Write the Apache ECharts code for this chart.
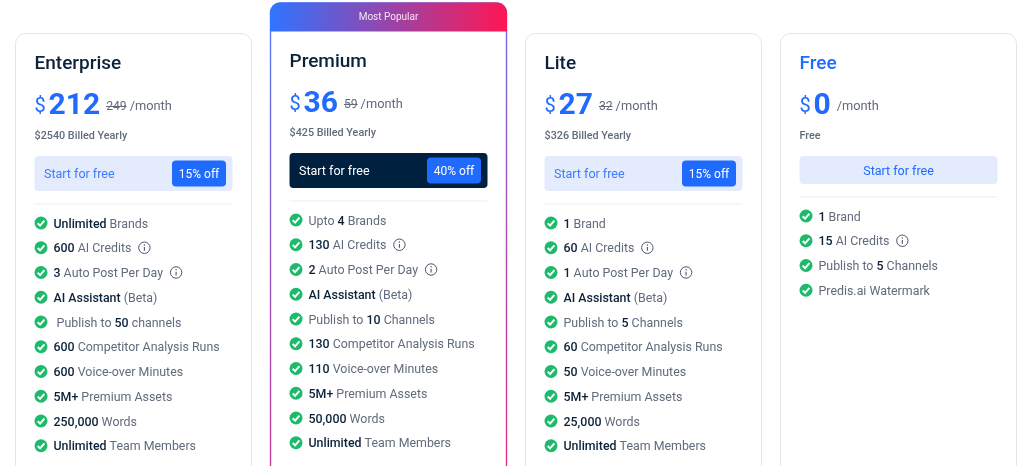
<!DOCTYPE html>
<html lang="en">
<head>
<meta charset="UTF-8">
<title>Pricing</title>
<script src="https://cdn.jsdelivr.net/npm/echarts@6/dist/echarts.min.js"></script>
<style>
  html, body { margin: 0; padding: 0; background: #fff; }
  #main { width: 1024px; height: 466px; }
</style>
</head>
<body>
<div id="main"></div>
<script>
// plan data. ** marks the bold parts of a feature line, [i] the info icon
var planNames = ['Enterprise', 'Premium', 'Lite', 'Free'];
var prices = ['212', '36', '27', '0'];
var oldPrices = ['249', '59', '32', ''];
var billed = ['$2540 Billed Yearly', '$425 Billed Yearly', '$326 Billed Yearly', 'Free'];
var discounts = ['15% off', '40% off', '15% off', ''];
var enterpriseFeatures = ['**Unlimited** Brands', '**600** AI Credits [i]', '**3** Auto Post Per Day [i]', '**AI Assistant** (Beta)',
  ' Publish to **50** channels', '**600** Competitor Analysis Runs', '**600** Voice-over Minutes', '**5M+** Premium Assets', '**250,000** Words', '**Unlimited** Team Members'];
var premiumFeatures = ['Upto **4** Brands', '**130** AI Credits [i]', '**2** Auto Post Per Day [i]', '**AI Assistant** (Beta)',
  'Publish to **10** Channels', '**130** Competitor Analysis Runs', '**110** Voice-over Minutes', '**5M+** Premium Assets', '**50,000** Words', '**Unlimited** Team Members'];
var liteFeatures = ['**1** Brand', '**60** AI Credits [i]', '**1** Auto Post Per Day [i]', '**AI Assistant** (Beta)',
  'Publish to **5** Channels', '**60** Competitor Analysis Runs', '**50** Voice-over Minutes', '**5M+** Premium Assets', '**25,000** Words', '**Unlimited** Team Members'];
var freeFeatures = ['**1** Brand', '**15** AI Credits [i]', 'Publish to **5** Channels', 'Predis.ai Watermark'];
var features = [enterpriseFeatures, premiumFeatures, liteFeatures, freeFeatures];
var ribbonText = 'Most Popular';
var ctaText = 'Start for free';

var FONT = 'Roboto';
var BLUE = '#1f6bff', NAVY = '#0b2239', GREY = '#616b7c', DARK = '#00203f';
var cardX = [15.5, 270.5, 525.5, 780.5];
var cardW = 236;

var ctx = document.createElement('canvas').getContext('2d');
function textW(str, size, weight) {
  ctx.font = (weight || 400) + ' ' + size + 'px ' + FONT;
  return ctx.measureText(str).width;
}
function label(x, y, str, size, color, weight, align) {
  return { type: 'text', x: x, y: y + 1.5, silent: true, style: {
    text: str, fill: color, font: (weight || 400) + ' ' + size + 'px ' + FONT,
    align: align || 'left', verticalAlign: 'middle' } };
}
function featureLine(x, y, line, out) {
  out.push({ type: 'circle', shape: { cx: x + 6.5, cy: y, r: 6.5 }, style: { fill: '#1dba6b' } });
  out.push({ type: 'polyline', shape: { points: [[x + 3.2, y + 0.2], [x + 5.6, y + 2.6], [x + 9.9, y - 2.4]] },
    style: { stroke: '#fff', lineWidth: 2, fill: null } });
  var tx = x + 19;
  line.replace(' [i]', '').split('**').forEach(function (part, i) {
    if (!part) return;
    var bold = i % 2 === 1;
    out.push(label(tx, y, part, 12.4, bold ? NAVY : GREY, bold ? 500 : 400));
    tx += textW(part, 12.4, bold ? 500 : 400);
  });
  if (line.indexOf('[i]') >= 0) {
    var ix = tx + 13;
    out.push({ type: 'circle', shape: { cx: ix, cy: y, r: 5.7 }, style: { fill: null, stroke: '#4a5468', lineWidth: 1 } });
    out.push({ type: 'line', shape: { x1: ix, y1: y - 0.8, x2: ix, y2: y + 3 }, style: { stroke: '#4a5468', lineWidth: 1.1 } });
    out.push({ type: 'circle', shape: { cx: ix, cy: y - 2.8, r: 0.7 }, style: { fill: '#4a5468' } });
  }
}
function buildCard(i) {
  var out = [];
  var popular = i === 1, free = i === 3;
  var top = popular ? 30.5 : 33.5;
  var x = cardX[i], ix = x + 19;
  if (popular) {
    out.push({ type: 'rect', shape: { x: x, y: 3, width: cardW, height: 560, r: 10 }, style: {
      fill: '#fff', lineWidth: 1.4,
      stroke: new echarts.graphic.LinearGradient(0, 0, 1, 1, [{ offset: 0, color: '#4f7cff' }, { offset: 1, color: '#ff1f6e' }]) } });
    out.push({ type: 'rect', shape: { x: x - 0.5, y: 2.5, width: cardW + 1, height: 29, r: [10, 10, 0, 0] }, style: {
      fill: new echarts.graphic.LinearGradient(0, 0, 1, 0, [{ offset: 0, color: '#2f74ff' }, { offset: 1, color: '#ff1654' }]) } });
    out.push(label(x + cardW / 2, 16, ribbonText, 10, '#f2e6f5', 400, 'center'));
  } else {
    out.push({ type: 'rect', shape: { x: x, y: top, width: cardW, height: 500, r: 10 }, style: { fill: '#fff', stroke: '#e4e5e8', lineWidth: 1 } });
  }
  var titleY = popular ? top + 30.5 : top + 29.5;
  out.push(label(ix, titleY, planNames[i], 19, free ? BLUE : NAVY, 500));
  var py = popular ? top + 72.5 : top + 71.5;
  out.push(label(ix, py, '$', 20, BLUE, 400));
  var px = ix + 14;
  out.push(label(px, py, prices[i], 30, BLUE, 700));
  px += textW(prices[i], 30, 700) + 6;
  if (oldPrices[i]) {
    out.push(label(px, py, oldPrices[i], 12.2, GREY, 400));
    var ow = textW(oldPrices[i], 12.2, 400);
    out.push({ type: 'line', shape: { x1: px, y1: py + 1.5, x2: px + ow, y2: py + 1.5 }, style: { stroke: GREY, lineWidth: 1 } });
    px += ow + 3;
  }
  out.push(label(px, py, '/month', 12.8, GREY, 400));
  out.push(label(ix, top + 101, billed[i], 10.8, GREY, 500));

  var by = top + 122.5, bh = free ? 28 : 35;
  out.push({ type: 'rect', shape: { x: ix, y: by, width: 198, height: bh, r: 4 }, style: { fill: popular ? DARK : '#e3ebfd' } });
  if (free) {
    out.push(label(ix + 99, by + bh / 2, ctaText, 12.5, BLUE, 400, 'center'));
  } else {
    out.push(label(ix + 9.5, by + bh / 2, ctaText, 12.5, popular ? '#fff' : '#3d7bff', 400));
    out.push({ type: 'rect', shape: { x: ix + 137.5, y: by + 4.5, width: 54, height: 26, r: 4 }, style: { fill: BLUE } });
    out.push(label(ix + 164.5, by + bh / 2, discounts[i], 12, '#fff', 400, 'center'));
  }
  var dy = by + bh + 13;
  out.push({ type: 'line', shape: { x1: ix, y1: dy, x2: ix + 198, y2: dy }, style: { stroke: '#eceef0', lineWidth: 1 } });
  features[i].forEach(function (line, k) {
    featureLine(ix, dy + 19 + k * 24.75, line, out);
  });
  return { type: 'group', children: out };
}

var chart = echarts.init(document.getElementById('main'), null, { renderer: 'canvas' });
chart.setOption({
  backgroundColor: '#fff',
  animation: false,
  graphic: { elements: planNames.map(function (n, i) { return buildCard(i); }) }
});
</script>
</body>
</html>
